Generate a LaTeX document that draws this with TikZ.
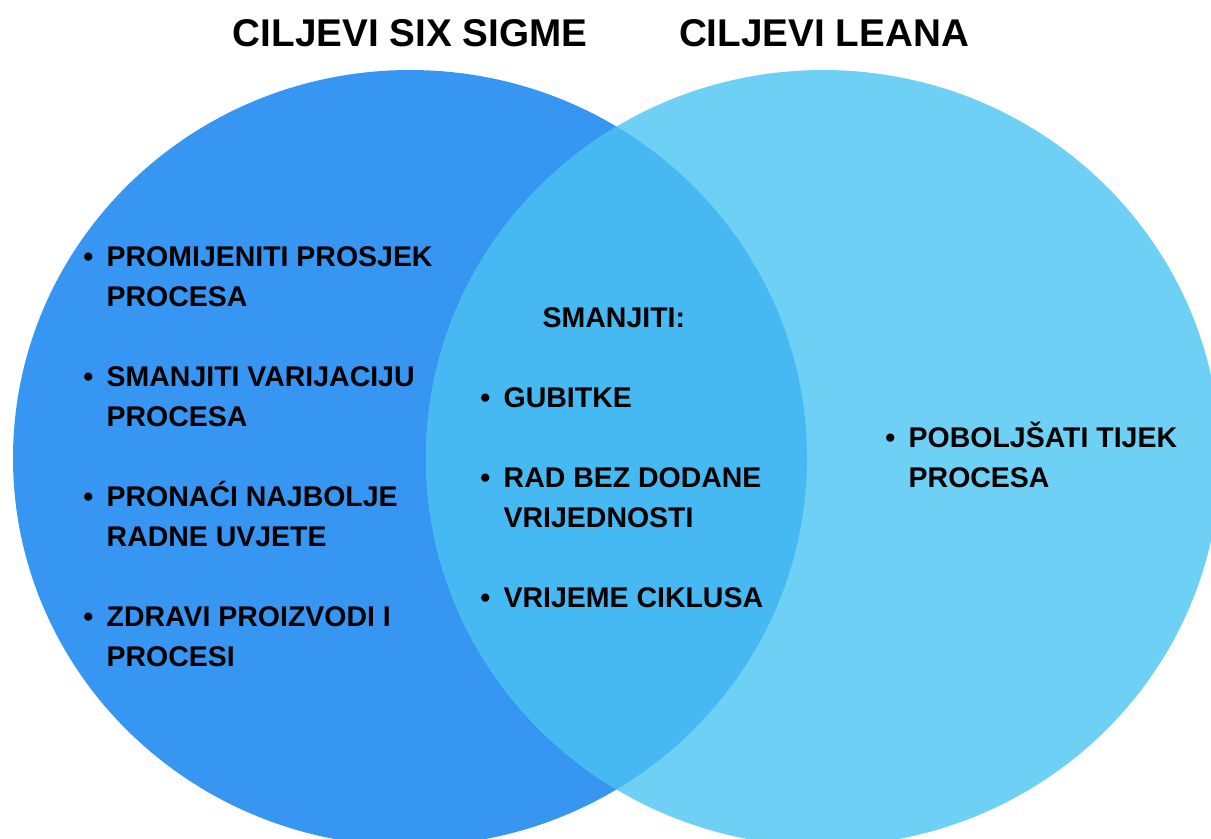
\documentclass[tikz,border=0pt]{standalone}
\usepackage{fontspec}
\setmainfont{Liberation Sans}
\usetikzlibrary{positioning}

\definecolor{sixsigma}{HTML}{3696F2}
\definecolor{lean}{HTML}{6FD0F5}
\definecolor{presjek}{HTML}{47B9F2}

\begin{document}
\begin{tikzpicture}
  [x=0.1mm,y=-0.1mm
  ,naslov/.style={font=\fontsize{11}{13}\selectfont\bfseries,inner sep=0,anchor=base}
  ,item/.style={font=\fontsize{8.1}{11.4}\selectfont\bfseries,inner sep=0,anchor=base west}
  ]

  % Goal line with bullet
  %
  % #1 - name
  % #2 - x position
  % #3 - y position (baseline)
  % #4 - text
  \newcommand{\stavka}[4]{
    \node[item] (#1) at (#2,#3) {#4};
    \node[item,anchor=base east] (#1dot) at ([xshift=-1.2mm]#1.base west) {•};
  }

  % Second line of a goal
  %
  % #1 - name
  % #2 - x position
  % #3 - y position (baseline)
  % #4 - text
  \newcommand{\redak}[4]{
    \node[item] (#1) at (#2,#3) {#4};
  }

  \useasboundingbox (0,0) rectangle (1211,838);

  % circles
  \begin{scope}
    \clip (0,0) rectangle (1211,838);
    \fill[sixsigma] (410,458) ellipse [x radius=397,y radius=388];
    \fill[lean] (823,458) ellipse [x radius=397,y radius=388];
    \clip (410,458) ellipse [x radius=397,y radius=388];
    \fill[presjek] (823,458) ellipse [x radius=397,y radius=388];
  \end{scope}

  % titles
  \node[naslov] (sixtitle) at (410,46) {CILJEVI SIX SIGME};
  \node[naslov] (leantitle) at (824,46) {CILJEVI LEANA};

  % six sigma
  \stavka{s1}{106}{266}{PROMIJENITI PROSJEK}
  \redak{s1b}{106}{306}{PROCESA}
  \stavka{s2}{106}{386}{SMANJITI VARIJACIJU}
  \redak{s2b}{106}{426}{PROCESA}
  \stavka{s3}{106}{506}{PRONAĆI NAJBOLJE}
  \redak{s3b}{106}{546}{RADNE UVJETE}
  \stavka{s4}{106}{626}{ZDRAVI PROIZVODI I}
  \redak{s4b}{106}{666}{PROCESI}

  % both
  \node[item] (smanjiti) at (542,327) {SMANJITI:};
  \stavka{z1}{503}{407}{GUBITKE}
  \stavka{z2}{503}{487}{RAD BEZ DODANE}
  \redak{z2b}{503}{527}{VRIJEDNOSTI}
  \stavka{z3}{503}{607}{VRIJEME CIKLUSA}

  % lean
  \stavka{l1}{908}{447}{POBOLJŠATI TIJEK}
  \redak{l1b}{908}{487}{PROCESA}

\end{tikzpicture}
\end{document}
